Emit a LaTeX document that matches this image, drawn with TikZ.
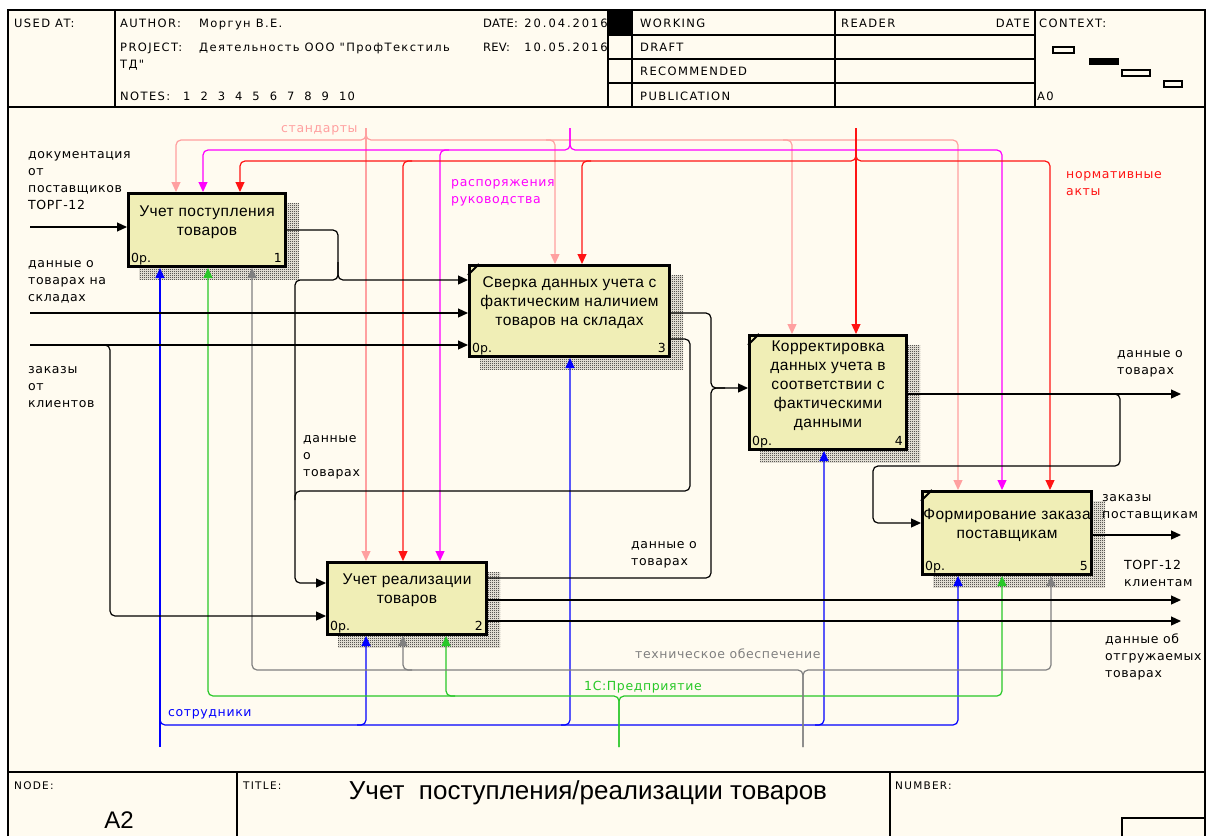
\documentclass[tikz,border=0pt]{standalone}
\usepackage{fontspec}
\setmainfont{Liberation Sans}
\newfontfamily\djv[LetterSpace=5]{DejaVu Sans}
\newfontfamily\hdr[LetterSpace=12]{DejaVu Sans}
\newfontfamily\hdrn[LetterSpace=2]{DejaVu Sans}
\newfontfamily\hdrw[LetterSpace=17]{DejaVu Sans}
\newfontfamily\bxf[LetterSpace=3]{Liberation Sans}
\newfontfamily\opf{DejaVu Sans}
\usetikzlibrary{arrows.meta,patterns,calc}

\definecolor{bgc}{RGB}{255,251,240}
\definecolor{boxc}{RGB}{240,238,182}
\definecolor{pinkc}{RGB}{255,160,160}
\definecolor{magc}{RGB}{255,0,255}
\definecolor{redc}{RGB}{255,20,20}
\definecolor{bluec}{RGB}{0,0,255}
\definecolor{greenc}{RGB}{40,200,40}
\definecolor{grayc}{RGB}{128,128,128}

\pgfdeclarepatternformonly{checker}{\pgfqpoint{0pt}{0pt}}{\pgfqpoint{2pt}{2pt}}{\pgfqpoint{2pt}{2pt}}{%
 \pgfpathrectangle{\pgfqpoint{0pt}{0pt}}{\pgfqpoint{1pt}{1pt}}%
 \pgfpathrectangle{\pgfqpoint{1pt}{1pt}}{\pgfqpoint{1pt}{1pt}}%
 \pgfusepath{fill}}

\newcommand\lns[1]{\vtop{\baselineskip=17.3pt\lineskiplimit=-20pt\halign{##\hfil\cr#1\crcr}}}

\pgfdeclarelayer{back}
\pgfsetlayers{back,main}

\tikzset{
 fnbox/.style={draw=black, line width=2.6pt, fill=boxc, inner sep=0pt},
 shd/.style={pattern=checker, pattern color=black},
 ln/.style={line width=1.2pt, rounded corners=5pt},
 arr/.style={-{Triangle[length=10pt,width=9pt]}},
 lbl/.style={font=\djv\fontsize{12.5}{17.3}\selectfont, anchor=base west, inner sep=0pt},
 hd/.style={font=\hdr\fontsize{11.5}{14}\selectfont, anchor=base west, inner sep=0pt},
 hdn/.style={font=\hdrn\fontsize{11.5}{14}\selectfont, anchor=base west, inner sep=0pt},
 hdv/.style={font=\hdrw\fontsize{11.5}{14}\selectfont, anchor=base east, inner sep=0pt},
 btxt/.style={font=\bxf\fontsize{15.5}{19}\selectfont, align=center, inner sep=0pt},
 opn/.style={font=\opf\fontsize{12.5}{14}\selectfont, inner sep=0pt},
 ft/.style={font=\hdr\fontsize{10.5}{12}\selectfont, anchor=base west, inner sep=0pt},
 frm/.style={line width=1.3pt, draw=black},
 cmark/.style={line width=2pt},
}

\begin{document}
\begin{tikzpicture}[x=1pt,y=-1pt]
\useasboundingbox (0,0) rectangle (1207,836);
\begin{pgfonlayer}{back}
\fill[white] (0,0) rectangle (1207,836);
\fill[bgc] (8,10) rectangle (1205,836);
\end{pgfonlayer}

% ---------- header texts ----------
\node[hd] (usedat) at (14,27) {USED AT:};
\node[hd] (auth) at (120,27) {AUTHOR:};
\node[hd] (authv) at (199,27) {Моргун В.Е.};
\node[hdn] (date) at (483,27) {DATE:};
\node[hdv] (datev) at (608,27) {20.04.2016};
\node[hd] (proj) at (120,51) {PROJECT:};
\node[hd] (projv) at (199,51) {Деятельность ООО "ПрофТекстиль};
\node[hd] (projv2) at (120,68) {ТД"};
\node[hdn] (rev) at (483,51) {REV:};
\node[hdv] (revv) at (608,51) {10.05.2016};
\node[hd] (notes) at (120,100) {NOTES:};
\node[hd] (notesv) at (183,100) {{\spaceskip=10pt 1 2 3 4 5 6 7 8 9 10}};
\node[hd] (working) at (640,27) {WORKING};
\node[hd] (draft) at (640,51) {DRAFT};
\node[hd] (recom) at (640,75) {RECOMMENDED};
\node[hd] (publ) at (640,100) {PUBLICATION};
\node[hd] (reader) at (841,27) {READER};
\node[hd, anchor=base east] (rdate) at (1030,27) {DATE};
\node[hd] (context) at (1039,27) {CONTEXT:};
\node[hd] (azero) at (1037,100) {A0};

% ---------- header frame ----------
\draw[frm] (8,836) -- (8,10) -- (1205,10) -- (1205,836);
\draw[frm] (8,107) -- (1205,107);
\draw[frm] (115,10) -- (115,107);
\draw[frm] (608,10) -- (608,107);
\draw[frm] (632,10) -- (632,107);
\draw[frm] (835,10) -- (835,107);
\draw[frm] (1035,10) -- (1035,107);
\foreach \yy in {35,59,83} \draw[frm] (608,\yy) -- (1035,\yy);
\fill (608,10) rectangle (632,35);
\draw[line width=1.2pt] (1053,47) rectangle (1074,53);
\fill (1089,58) rectangle (1119,65);
\draw[line width=1.2pt] (1122,70) rectangle (1150,76);
\draw[line width=1.2pt] (1164,81) rectangle (1182,87);

% ---------- footer ----------
\draw[frm] (8,772) -- (1205,772);
\draw[frm] (237,772) -- (237,836);
\draw[frm] (890,772) -- (890,836);
\draw[frm] (1122,836) |- (1205,818);
\node[ft] (nodel) at (14,789) {NODE:};
\node[ft] (titlel) at (243,789) {TITLE:};
\node[ft] (numl) at (895,789) {NUMBER:};
\node[font=\fontsize{24}{24}\selectfont, anchor=base, inner sep=0pt] (nodev) at (119,828) {A2};
\node[font=\fontsize{26}{26}\selectfont, anchor=base, inner sep=0pt] (title) at (588,799) {Учет\ \ поступления/реализации товаров};

% ---------- boxes ----------
\node[fnbox, minimum width=157.4pt, minimum height=73.4pt] (b1) at (207,230) {};
\node[fnbox, minimum width=159.4pt, minimum height=72.4pt] (b2) at (407,598.5) {};
\node[fnbox, minimum width=200.4pt, minimum height=91.4pt] (b3) at (569.5,311) {};
\node[fnbox, minimum width=157.4pt, minimum height=114.4pt] (b4) at (828,392.5) {};
\node[fnbox, minimum width=169.4pt, minimum height=83.4pt] (b5) at (1007,533) {};

\begin{pgfonlayer}{back}
\foreach \b in {b1,b2,b3,b4,b5}
  \fill[shd] ([shift={(12pt,-11pt)}]\b.south west) rectangle ([shift={(12pt,-11pt)}]\b.north east);
\end{pgfonlayer}

\foreach \b in {b3,b4,b5}
  \draw[cmark] ([yshift=-11pt]\b.north west) -- ([xshift=11pt]\b.north west);

\node[btxt, yshift=8pt] (t1) at (b1.center) {Учет поступления\\товаров};
\node[btxt, yshift=8pt] (t2) at (b2.center) {Учет реализации\\товаров};
\node[btxt, yshift=8pt] (t3) at (b3.center) {Сверка данных учета с\\фактическим наличием\\товаров на складах};
\node[btxt, yshift=7pt] (t4) at (b4.center) {Корректировка\\данных учета в\\соответствии с\\фактическими\\данными};
\node[btxt, yshift=7.5pt] (t5) at (b5.center) {Формирование заказа\\поставщикам};

\foreach \b/\n in {b1/1,b2/2,b3/3,b4/4,b5/5}{
  \node[opn, anchor=base west] at ([shift={(4pt,6pt)}]\b.south west) {0р.};
  \node[opn, anchor=base east] at ([shift={(-5pt,6pt)}]\b.south east) {\n};
}

% ---------- coordinates ----------
\coordinate (srcS) at (366,128);
\coordinate (srcM) at (570,128);
\coordinate (srcN) at (856,128);
\coordinate (srcB) at (160,747);
\coordinate (srcG) at (619,747);
\coordinate (srcT) at (803,747);
\coordinate (in1) at (30,227);
\coordinate (in2) at (30,313);
\coordinate (in3) at (30,345);
\coordinate (o4) at (1181,394);
\coordinate (o5) at (1181,535);
\coordinate (o2a) at (1181,600);
\coordinate (o2b) at (1181,621);

% ---------- controls ----------
\draw[ln, pinkc, arr] (srcS) -- (srcS |- b2.north);
\draw[ln, pinkc, arr] (srcS) |- (176,140) -- (176,0 |- b1.north);
\draw[ln, pinkc, arr] (srcS) |- (958,140) -- (958,0 |- b5.north);
\draw[ln, pinkc, arr] (546,140) -- (555,140) -- (555,0 |- b3.north);
\draw[ln, pinkc, arr] (783,140) -- (792,140) -- (792,0 |- b4.north);

\draw[ln, magc, arr] (srcM) |- (203,150) -- (203,0 |- b1.north);
\draw[ln, magc, arr] (srcM) |- (1002,150) -- (1002,0 |- b5.north);
\draw[ln, magc, arr] (449,150) -- (440,150) -- (440,0 |- b2.north);

\draw[ln, redc, arr] (srcN) -- (srcN |- b4.north);
\draw[ln, redc, arr] (srcN) |- (240,161) -- (240,0 |- b1.north);
\draw[ln, redc, arr] (srcN) |- (1050,161) -- (1050,0 |- b5.north);
\draw[ln, redc, arr] (412,161) -- (403,161) -- (403,0 |- b2.north);
\draw[ln, redc, arr] (591,161) -- (582,161) -- (582,0 |- b3.north);

% ---------- mechanisms ----------
\draw[ln, bluec, arr] (srcB) -- (srcB |- b1.south);
\draw[ln, bluec, arr] (160,715) |- (958,725) -- (958,0 |- b5.south);
\draw[ln, bluec, arr] (357,725) -- (366,725) -- (366,0 |- b2.south);
\draw[ln, bluec, arr] (561,725) -- (570,725) -- (570,0 |- b3.south);
\draw[ln, bluec, arr] (815,725) -- (824,725) -- (824,0 |- b4.south);

\draw[ln, greenc, arr] (srcG) |- (208,696) -- (208,0 |- b1.south);
\draw[ln, greenc, arr] (srcG) |- (1002,696) -- (1002,0 |- b5.south);
\draw[ln, greenc, arr] (455,696) -- (446,696) -- (446,0 |- b2.south);

\draw[ln, grayc, arr] (srcT) |- (252,670) -- (252,0 |- b1.south);
\draw[ln, grayc, arr] (srcT) |- (1051,670) -- (1051,0 |- b5.south);
\draw[ln, grayc, arr] (412,670) -- (403,670) -- (403,0 |- b2.south);

% ---------- inputs ----------
\draw[ln, arr] (in1) -- (in1 -| b1.west);
\draw[ln, arr] (in2) -- (in2 -| b3.west);
\draw[ln, arr] (in3) -- (in3 -| b3.west);
\draw[ln, arr] (100,345) -- (110,345) -- (110,616) -- (b2.west |- 0,616);

% ---------- internal flows ----------
\draw[ln, arr] (b1.east) -| (338,280) -- (b3.west |- 0,280);
\draw[ln, arr] (338,262) |- (295,280) |- (b2.west |- 0,583);
\draw[ln] (b3.east |- 0,339) -| (690,491) -- (295,491) -- (295,500);
\draw[ln, arr] (b3.east |- 0,313) -| (711,388) -- (b4.west |- 0,388);
\draw[ln] (b2.east |- 0,578) -| (711,388) -- (725,388);
\draw[ln, arr] (b4.east |- 0,394) -- (o4);
\draw[ln, arr] (1110,394) -| (1120,466) -| (873,523) -- (b5.west |- 0,523);
\draw[ln, arr] (b5.east |- 0,535) -- (o5);
\draw[ln, arr] (b2.east |- 0,600) -- (o2a);
\draw[ln, arr] (b2.east |- 0,621) -- (o2b);

% ---------- labels ----------
\node[lbl, pinkc] (lstd) at (281,132) {стандарты};
\node[lbl, magc] (lrasp) at (451,186) {\lns{распоряжения\cr руководства}};
\node[lbl, redc] (lnorm) at (1066,178) {\lns{нормативные\cr акты}};
\node[lbl] (ldoc) at (28,158) {\lns{документация\cr от\cr поставщиков\cr ТОРГ-12}};
\node[lbl] (lskl) at (28,267) {\lns{данные о\cr товарах на\cr складах}};
\node[lbl] (lzak) at (28,373) {\lns{заказы\cr от\cr клиентов}};
\node[lbl] (ldt1) at (303,442) {\lns{данные\cr о\cr товарах}};
\node[lbl] (ldt2) at (631,548) {\lns{данные о\cr товарах}};
\node[lbl] (ldt3) at (1117,357) {\lns{данные о\cr товарах}};
\node[lbl] (lzp) at (1102,501) {\lns{заказы\cr поставщикам}};
\node[lbl] (ltk) at (1124,569) {\lns{ТОРГ-12\cr клиентам}};
\node[lbl] (lotg) at (1105,643) {\lns{данные об\cr отгружаемых\cr товарах}};
\node[lbl, grayc] (ltech) at (635,658) {техническое обеспечение};
\node[lbl, greenc] (l1c) at (584,690) {1С:Предприятие};
\node[lbl, bluec] (lsotr) at (168,716) {сотрудники};
\end{tikzpicture}
\end{document}
